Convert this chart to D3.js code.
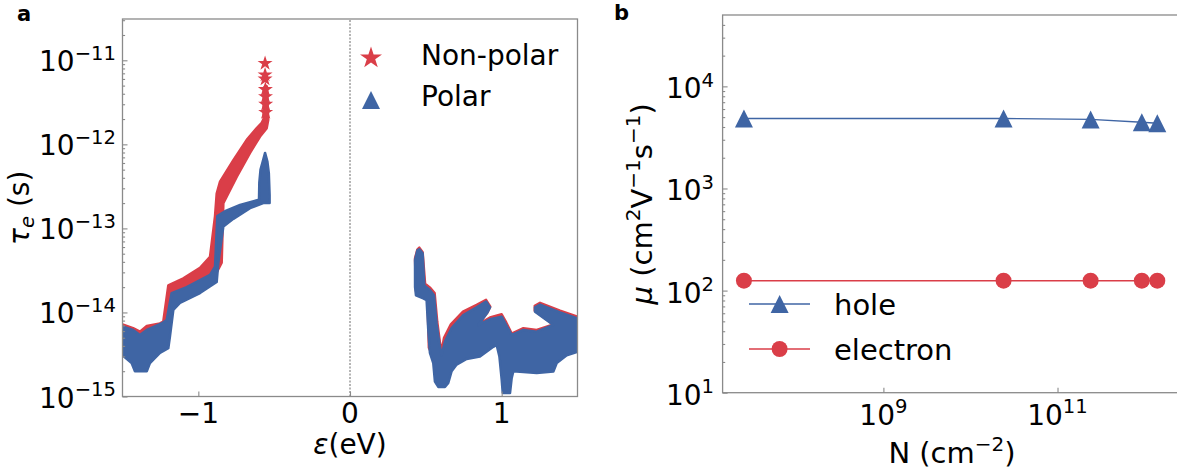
<!DOCTYPE html>
<html lang="en">
<head>
<meta charset="UTF-8">
<title>Relaxation time and mobility</title>
<script src="https://d3js.org/d3.v7.min.js"></script>
<style>
  body { margin: 0; background: #fff; }
  svg text { font-family: "DejaVu Sans", sans-serif; fill: #000; }
</style>
</head>
<body>
<svg id="chart" width="1177" height="473"></svg>
<script>
// ---- panel a: outlines of the dense scatter bands, [energy (eV), tau (s)] ----
// top edge left->right, then bottom edge right->left
const nonPolarNeg = [
  [-1.50, 7.2e-15], [-1.43, 6.5e-15], [-1.385, 5.9e-15], [-1.34, 6.9e-15], [-1.253, 7.4e-15],
  [-1.231, 7.8e-15], [-1.198, 2.1e-14], [-1.099, 2.55e-14], [-0.989, 3.4e-14], [-0.923, 4.6e-14],
  [-0.890, 1.4e-13], [-0.879, 2.6e-13], [-0.857, 3.6e-13], [-0.769, 6.5e-13], [-0.681, 1.13e-12],
  [-0.615, 1.56e-12], [-0.582, 1.8e-12], [-0.570, 2.0e-12], [-0.568, 4.7e-12], [-0.558, 5.0e-12],
  [-0.548, 4.9e-12], [-0.539, 1.96e-12], [-0.549, 1.56e-12], [-0.593, 1.24e-12], [-0.659, 7.9e-13],
  [-0.747, 4.1e-13], [-0.835, 2.0e-13], [-0.846, 3.9e-14], [-0.879, 3.0e-14], [-0.989, 2.2e-14],
  [-1.121, 1.7e-14], [-1.165, 1.4e-14], [-1.187, 6.8e-15], [-1.198, 4.9e-15], [-1.253, 4.3e-15],
  [-1.319, 3.2e-15], [-1.34, 2.6e-15], [-1.418, 2.6e-15], [-1.44, 3.2e-15], [-1.50, 4.0e-15]
];
const polarNeg = [
  [-1.50, 6.8e-15], [-1.43, 6.2e-15], [-1.385, 5.4e-15], [-1.34, 6.2e-15], [-1.242, 7.4e-15],
  [-1.209, 8.1e-15], [-1.176, 1.7e-14], [-1.077, 2.0e-14], [-0.923, 2.8e-14], [-0.890, 3.5e-14],
  [-0.875, 1.4e-13], [-0.824, 1.6e-13], [-0.725, 1.9e-13], [-0.600, 2.2e-13], [-0.598, 3.5e-13],
  [-0.59, 5.0e-13], [-0.575, 6.3e-13], [-0.56, 7.9e-13], [-0.545, 6.3e-13], [-0.535, 4.5e-13],
  [-0.53, 2.5e-13], [-0.53, 2.0e-13], [-0.572, 2.0e-13], [-0.659, 1.74e-13], [-0.769, 1.3e-13],
  [-0.835, 1.05e-13], [-0.857, 5.5e-14], [-0.868, 3.9e-14], [-0.879, 2.3e-14], [-0.989, 1.7e-14],
  [-1.121, 1.3e-14], [-1.165, 1.07e-14], [-1.187, 5.2e-15], [-1.198, 3.75e-15], [-1.253, 3.3e-15],
  [-1.319, 2.5e-15], [-1.340, 2.0e-15], [-1.418, 2.0e-15], [-1.44, 2.5e-15], [-1.50, 3.1e-15]
];
const nonPolarPos = [
  [0.4286, 4.4e-14], [0.444, 5.6e-14], [0.457, 5.9e-14], [0.479, 5.2e-14], [0.495, 2.2e-14],
  [0.53, 1.95e-14], [0.558, 1.7e-14], [0.575, 7.8e-15], [0.592, 4.5e-15], [0.603, 3.4e-15],
  [0.62, 5.0e-15], [0.665, 7.2e-15], [0.745, 1.02e-14], [0.835, 1.23e-14], [0.897, 1.41e-14],
  [0.925, 1.17e-14], [0.906, 1.0e-14], [0.846, 7.2e-15], [0.923, 8.7e-15], [1.0, 9.5e-15],
  [1.03, 7.6e-15], [1.066, 5.6e-15], [1.143, 6.5e-15], [1.231, 6.2e-15], [1.341, 7.2e-15],
  [1.218, 1.05e-14], [1.218, 1.2e-14], [1.253, 1.3e-14], [1.385, 1.05e-14], [1.5, 8.9e-15],
  [1.5, 4.0e-15], [1.43, 3.6e-15], [1.36, 2.9e-15], [1.34, 2.3e-15], [1.08, 2.3e-15],
  [1.01, 1.9e-15], [0.985, 3.5e-15], [0.967, 4.7e-15], [0.945, 4.5e-15], [0.857, 3.5e-15],
  [0.769, 3.2e-15], [0.70, 2.8e-15], [0.67, 2.3e-15], [0.65, 1.7e-15], [0.58, 1.5e-15],
  [0.55, 2.9e-15], [0.52, 3.8e-15], [0.51, 1.6e-14], [0.435, 1.8e-14]
];
const polarPos = [
  [0.4286, 4.2e-14], [0.444, 5.45e-14], [0.457, 5.65e-14], [0.479, 5.05e-14], [0.490, 2.1e-14],
  [0.527, 1.85e-14], [0.554, 1.6e-14], [0.571, 7.4e-15], [0.589, 4.3e-15], [0.604, 3.1e-15],
  [0.626, 4.5e-15], [0.670, 6.5e-15], [0.747, 9.3e-15], [0.835, 1.15e-14], [0.897, 1.35e-14],
  [0.923, 1.15e-14], [0.906, 1.0e-14], [0.846, 7.1e-15], [0.923, 8.3e-15], [1.000, 8.9e-15],
  [1.029, 7.1e-15], [1.066, 5.4e-15], [1.143, 6.2e-15], [1.231, 5.9e-15], [1.341, 7.1e-15],
  [1.220, 1.02e-14], [1.220, 1.15e-14], [1.253, 1.24e-14], [1.385, 1.0e-14], [1.50, 8.5e-15],
  [1.50, 3.4e-15], [1.429, 3.1e-15], [1.363, 2.5e-15], [1.341, 1.98e-15], [1.231, 1.9e-15],
  [1.077, 2.0e-15], [1.066, 1.65e-15], [1.055, 1.1e-15], [1.007, 1.1e-15], [1.000, 1.6e-15],
  [0.985, 3.0e-15], [0.967, 4.1e-15], [0.945, 3.9e-15], [0.857, 3.0e-15], [0.769, 2.8e-15],
  [0.703, 2.4e-15], [0.670, 2.0e-15], [0.648, 1.45e-15], [0.626, 1.3e-15], [0.582, 1.3e-15],
  [0.560, 1.5e-15], [0.549, 2.5e-15], [0.527, 3.3e-15], [0.516, 6.2e-15], [0.505, 1.4e-14],
  [0.483, 1.47e-14], [0.435, 1.6e-14], [0.429, 2.0e-14]
];
// separate star markers on the non-polar spike
const nonPolarSpikeStars = [
  [-0.560, 9.2e-12], [-0.560, 6.7e-12], [-0.560, 6.0e-12], [-0.558, 4.5e-12],
  [-0.557, 3.7e-12], [-0.556, 3.0e-12], [-0.556, 2.4e-12]
];

const energyTicks = [-1, 0, 1];
const tauExponents = [-15, -14, -13, -12, -11];

// ---- panel b: mobility vs carrier density ----
const carrierDensity = [2.5e7, 2.4e10, 2.4e11, 9.3e11, 1.4e12];
const holeMobility = [4850, 4850, 4750, 4450, 4350];
const electronMobility = [125, 125, 125, 125, 125];

const densityExponents = [9, 11];
const mobilityExponents = [1, 2, 3, 4];

const red = "#da3e48", blue = "#3f65a4", frame = "#8a8a8a";
const svg = d3.select("#chart");

// matplotlib-like triangle: bbox centred, width == height
const triUp = {
  draw(ctx, size) {
    const r = Math.sqrt(size) / 2;
    ctx.moveTo(0, -r); ctx.lineTo(r, r); ctx.lineTo(-r, r); ctx.closePath();
  }
};

function minorValues(lo, hi) {
  const out = [];
  for (let e = Math.floor(Math.log10(lo)); e <= Math.ceil(Math.log10(hi)); e++) {
    for (let k = 2; k <= 9; k++) {
      const v = k * Math.pow(10, e);
      if (v > lo && v < hi) out.push(v);
    }
  }
  return out;
}

function powLabel(g, x, y, exp, anchor, size) {
  const t = g.append("text").attr("x", x).attr("y", y)
    .attr("text-anchor", anchor).style("font-size", size + "px");
  t.append("tspan").text("10");
  t.append("tspan").attr("dy", -size * 0.42).style("font-size", (size * 0.7) + "px")
    .text(exp < 0 ? "\u2212" + (-exp) : String(exp));
}

function styleAxis(g) {
  g.select(".domain").remove();
  g.selectAll(".tick line").attr("stroke", frame).attr("stroke-width", 1.1);
}

// ================= panel a =================
const xA = d3.scaleLinear().domain([-1.5, 1.5]).range([122.5, 577.5]);
const yA = d3.scaleLog().domain([1e-15, 3.1e-11]).range([396.5, 19]);

const gA = svg.append("g");
gA.append("clipPath").attr("id", "clipA").append("rect")
  .attr("x", xA.range()[0]).attr("y", yA.range()[1])
  .attr("width", xA.range()[1] - xA.range()[0]).attr("height", yA.range()[0] - yA.range()[1]);

const bandLine = d3.line().x(d => xA(d[0])).y(d => yA(d[1]));
const bands = gA.append("g").attr("clip-path", "url(#clipA)");
[[nonPolarNeg, red], [nonPolarPos, red]].forEach(([pts, c]) => {
  bands.append("path").attr("d", bandLine(pts) + "Z")
    .attr("fill", c).attr("stroke", c).attr("stroke-width", 2.5).attr("stroke-linejoin", "round");
});
bands.selectAll(".spikeStar").data(nonPolarSpikeStars).enter().append("path")
  .attr("class", "spikeStar")
  .attr("d", d3.symbol().type(d3.symbolStar).size(70))
  .attr("transform", d => `translate(${xA(d[0])},${yA(d[1])})`)
  .attr("fill", red);
[[polarNeg, blue], [polarPos, blue]].forEach(([pts, c]) => {
  bands.append("path").attr("d", bandLine(pts) + "Z")
    .attr("fill", c).attr("stroke", c).attr("stroke-width", 2.5).attr("stroke-linejoin", "round");
});

// dotted line at zero energy
gA.append("line")
  .attr("x1", xA(0)).attr("x2", xA(0)).attr("y1", yA.range()[0]).attr("y2", yA.range()[1])
  .attr("stroke", "#444").attr("stroke-width", 0.8).attr("stroke-dasharray", "2,1.5");

// frame
gA.append("rect")
  .attr("x", xA.range()[0]).attr("y", yA.range()[1])
  .attr("width", xA.range()[1] - xA.range()[0]).attr("height", yA.range()[0] - yA.range()[1])
  .attr("fill", "none").attr("stroke", frame).attr("stroke-width", 1.3);

const tauMajor = tauExponents.map(e => Math.pow(10, e));
gA.append("g").attr("transform", `translate(${xA.range()[0]},0)`)
  .call(d3.axisLeft(yA).tickValues(tauMajor).tickSize(-5).tickFormat(""))
  .call(styleAxis);
gA.append("g").attr("transform", `translate(${xA.range()[0]},0)`)
  .call(d3.axisLeft(yA).tickValues(minorValues(1e-15, 3.1e-11)).tickSize(-2.6).tickFormat(""))
  .call(styleAxis);
gA.append("g").attr("transform", `translate(0,${yA.range()[0]})`)
  .call(d3.axisBottom(xA).tickValues(energyTicks).tickSize(-5).tickFormat(""))
  .call(styleAxis);

tauExponents.forEach(e => powLabel(gA, 116, yA(Math.pow(10, e)) + 11, e, "end", 28));
energyTicks.forEach(v => {
  gA.append("text").attr("x", xA(v)).attr("y", 423).attr("text-anchor", "middle")
    .style("font-size", "28px").text(v < 0 ? "\u2212" + (-v) : v);
});

// axis titles
const epsLabel = gA.append("text").attr("x", xA(0)).attr("y", 454)
  .attr("text-anchor", "middle").style("font-size", "28px");
epsLabel.append("tspan").style("font-style", "italic").text("\u03b5");
epsLabel.append("tspan").text("(eV)");

const tauLabel = gA.append("text").attr("transform", `translate(29,${(yA.range()[0] + yA.range()[1]) / 2}) rotate(-90)`)
  .attr("text-anchor", "middle").style("font-size", "28px");
tauLabel.append("tspan").style("font-style", "italic").text("\u03c4");
tauLabel.append("tspan").attr("dy", 5).style("font-style", "italic").style("font-size", "19.6px").text("e");
tauLabel.append("tspan").attr("dy", -5).text(" (s)");

// legend a
const legA = gA.append("g");
legA.append("path").attr("d", d3.symbol().type(d3.symbolStar).size(150))
  .attr("transform", "translate(371,58)").attr("fill", red);
legA.append("path").attr("d", d3.symbol().type(triUp).size(324))
  .attr("transform", "translate(371,100)").attr("fill", blue);
legA.append("text").attr("x", 421).attr("y", 65).style("font-size", "28px").text("Non-polar");
legA.append("text").attr("x", 421).attr("y", 106).style("font-size", "28px").text("Polar");

svg.append("text").attr("x", 17).attr("y", 21).style("font-size", "21px")
  .style("font-weight", "bold").text("a");

// ================= panel b =================
const xB = d3.scaleLog().domain([Math.pow(10, 7.153), Math.pow(10, 12.423)]).range([722.6, 1181.4]);
const yB = d3.scaleLog().domain([10, 5e4]).range([392.7, 15]);
const gB = svg.append("g");

gB.append("rect")
  .attr("x", xB.range()[0]).attr("y", yB.range()[1])
  .attr("width", xB.range()[1] - xB.range()[0]).attr("height", yB.range()[0] - yB.range()[1])
  .attr("fill", "none").attr("stroke", frame).attr("stroke-width", 1.3);

const mobMajor = mobilityExponents.map(e => Math.pow(10, e));
gB.append("g").attr("transform", `translate(${xB.range()[0]},0)`)
  .call(d3.axisLeft(yB).tickValues(mobMajor).tickSize(-5).tickFormat(""))
  .call(styleAxis);
gB.append("g").attr("transform", `translate(${xB.range()[0]},0)`)
  .call(d3.axisLeft(yB).tickValues(minorValues(10, 5e4)).tickSize(-2.6).tickFormat(""))
  .call(styleAxis);
gB.append("g").attr("transform", `translate(0,${yB.range()[0]})`)
  .call(d3.axisBottom(xB).tickValues(densityExponents.map(e => Math.pow(10, e))).tickSize(-5).tickFormat(""))
  .call(styleAxis);

mobilityExponents.forEach(e => powLabel(gB, 714, yB(Math.pow(10, e)) + 12, e, "end", 28));
densityExponents.forEach(e => powLabel(gB, xB(Math.pow(10, e)), 425, e, "middle", 28));

const series = [
  { name: "hole", values: holeMobility, color: blue, shape: "tri" },
  { name: "electron", values: electronMobility, color: red, shape: "circle" }
];
const mobLine = d3.line().x(d => xB(d[0])).y(d => yB(d[1]));
series.forEach(s => {
  const pts = carrierDensity.map((n, i) => [n, s.values[i]]);
  gB.append("path").attr("d", mobLine(pts)).attr("fill", "none")
    .attr("stroke", s.color).attr("stroke-width", 1.4);
  gB.selectAll(null).data(pts).enter().append("path")
    .attr("d", d3.symbol().type(s.shape === "tri" ? triUp : d3.symbolCircle).size(s.shape === "tri" ? 324 : 201))
    .attr("transform", d => `translate(${xB(d[0])},${yB(d[1])})`)
    .attr("fill", s.color);
});

// legend b
series.forEach((s, i) => {
  const y = 304 + i * 45;
  gB.append("line").attr("x1", 749).attr("x2", 810).attr("y1", y).attr("y2", y)
    .attr("stroke", s.color).attr("stroke-width", 1.4);
  gB.append("path")
    .attr("d", d3.symbol().type(s.shape === "tri" ? triUp : d3.symbolCircle).size(s.shape === "tri" ? 324 : 201))
    .attr("transform", `translate(779.6,${y})`).attr("fill", s.color);
  gB.append("text").attr("x", 834).attr("y", y + 11).style("font-size", "29px").text(s.name);
});

// axis titles
const nLabel = gB.append("text").attr("x", (xB.range()[0] + xB.range()[1]) / 2).attr("y", 463)
  .attr("text-anchor", "middle").style("font-size", "29px");
nLabel.append("tspan").text("N (cm");
nLabel.append("tspan").attr("dy", -12).style("font-size", "20px").text("\u22122");
nLabel.append("tspan").attr("dy", 12).text(")");

const muLabel = gB.append("text").attr("transform", `translate(652,${(yB.range()[0] + yB.range()[1]) / 2}) rotate(-90)`)
  .attr("text-anchor", "middle").style("font-size", "29px");
muLabel.append("tspan").style("font-style", "italic").text("\u03bc");
muLabel.append("tspan").text(" (cm");
muLabel.append("tspan").attr("dy", -12).style("font-size", "20px").text("2");
muLabel.append("tspan").attr("dy", 12).text("V");
muLabel.append("tspan").attr("dy", -12).style("font-size", "20px").text("\u22121");
muLabel.append("tspan").attr("dy", 12).text("s");
muLabel.append("tspan").attr("dy", -12).style("font-size", "20px").text("\u22121");
muLabel.append("tspan").attr("dy", 12).text(")");

svg.append("text").attr("x", 614).attr("y", 20).style("font-size", "21px")
  .style("font-weight", "bold").text("b");
</script>
</body>
</html>
